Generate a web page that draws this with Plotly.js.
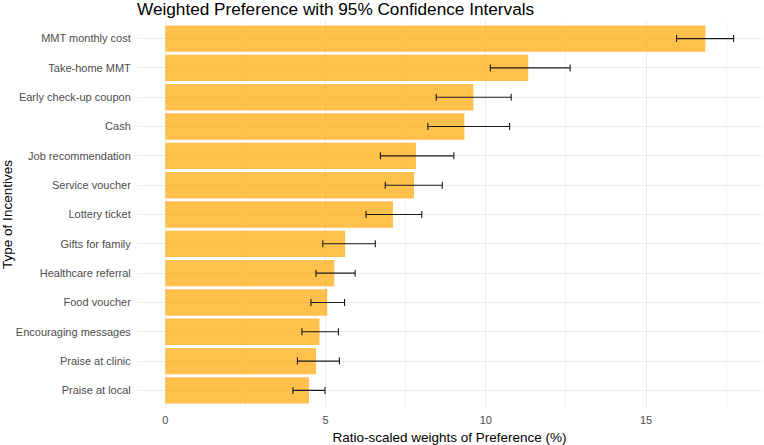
<!DOCTYPE html>
<html>
<head>
<meta charset="utf-8">
<script src="https://cdn.plot.ly/plotly-3.0.1.min.js"></script>
<style>
  html, body { margin: 0; padding: 0; background: #ffffff; }
  #chart { width: 764px; height: 445px; }
</style>
</head>
<body>
<div id="chart"></div>
<script>
// Incentive types, ordered from highest to lowest weight
const incentives = [
  "MMT monthly cost",
  "Take-home MMT",
  "Early check-up coupon",
  "Cash",
  "Job recommendation",
  "Service voucher",
  "Lottery ticket",
  "Gifts for family",
  "Healthcare referral",
  "Food voucher",
  "Encouraging messages",
  "Praise at clinic",
  "Praise at local"
];

// Ratio-scaled weight of preference (%)
const weights = [16.85, 11.32, 9.61, 9.33, 7.82, 7.76, 7.10, 5.61, 5.27, 5.05, 4.81, 4.70, 4.48];

// 95% confidence interval bounds
const ciLower = [15.95, 10.14, 8.45, 8.19, 6.71, 6.86, 6.26, 4.91, 4.70, 4.54, 4.26, 4.12, 3.98];
const ciUpper = [17.73, 12.63, 10.79, 10.74, 9.00, 8.64, 8.00, 6.55, 5.92, 5.59, 5.40, 5.43, 4.98];

const xTicks = [0, 5, 10, 15];

const errPlus = ciUpper.map((u, i) => u - weights[i]);
const errMinus = weights.map((w, i) => w - ciLower[i]);

const trace = {
  type: "bar",
  orientation: "h",
  y: incentives,
  x: weights,
  width: 0.9,
  marker: { color: "rgba(255,165,0,0.7)", line: { width: 0 } },
  error_x: {
    type: "data",
    symmetric: false,
    array: errPlus,
    arrayminus: errMinus,
    color: "#1a1a1a",
    thickness: 1.1,
    width: 3.5
  },
  hoverinfo: "x+y"
};

const grid = "#EBEBEB";
const maxX = Math.max(...ciUpper);

const layout = {
  width: 764,
  height: 445,
  paper_bgcolor: "#ffffff",
  plot_bgcolor: "#ffffff",
  margin: { l: 137, r: 2, t: 21, b: 37 },
  font: { family: "Liberation Sans", color: "#4D4D4D", size: 11 },
  title: {
    text: "Weighted Preference with 95% Confidence Intervals",
    font: { family: "Liberation Sans", size: 17.2, color: "#000000" },
    x: 0,
    xref: "paper",
    xanchor: "left",
    y: 1 - 9.3 / 445,
    yanchor: "middle"
  },
  showlegend: false,
  bargap: 0.1,
  xaxis: {
    range: [-0.05 * maxX, maxX * 1.05],
    tickvals: xTicks,
    ticktext: xTicks.map(String),
    showgrid: true,
    gridcolor: grid,
    gridwidth: 1.1,
    minor: { dtick: 2.5, tick0: 0, showgrid: true, gridcolor: grid, gridwidth: 0.6 },
    zeroline: false,
    showline: false,
    ticks: "outside",
    ticklen: 2,
    tickcolor: "rgba(0,0,0,0)",
    tickfont: { family: "Liberation Sans", size: 11, color: "#4D4D4D" },
    title: {
      text: "Ratio-scaled weights of Preference (%)",
      font: { family: "Liberation Sans", size: 13.5, color: "#000000" },
      standoff: 7
    }
  },
  yaxis: {
    type: "category",
    categoryorder: "array",
    categoryarray: incentives,
    range: [incentives.length - 0.4, -0.6],
    showgrid: true,
    gridcolor: grid,
    gridwidth: 1.1,
    zeroline: false,
    showline: false,
    ticks: "outside",
    ticklen: 3,
    tickcolor: "rgba(0,0,0,0)",
    tickfont: { family: "Liberation Sans", size: 11, color: "#4D4D4D" },
    title: {
      text: "Type of Incentives",
      font: { family: "Liberation Sans", size: 13.5, color: "#000000" },
      standoff: 8
    }
  }
};

Plotly.newPlot("chart", [trace], layout, { displayModeBar: false, staticPlot: true });
</script>
</body>
</html>
